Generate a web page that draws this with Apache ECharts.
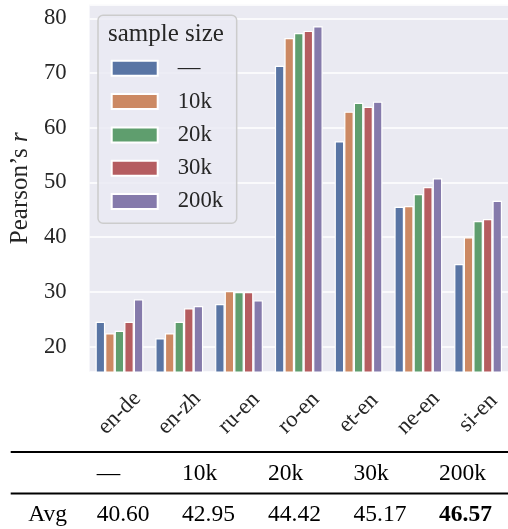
<!DOCTYPE html>
<html><head><meta charset="utf-8">
<script src="https://cdn.jsdelivr.net/npm/echarts@6/dist/echarts.min.js"></script>
<style>html,body{margin:0;padding:0;background:#fff}#c{width:508px;height:529px}</style>
</head><body><div id="c"></div>
<script>
var categories = ['en-de','en-zh','ru-en','ro-en','et-en','ne-en','si-en'];
var seriesNames = ['—','10k','20k','30k','200k'];
var valsNone = [24.57, 21.53, 27.8, 71.34, 57.53, 45.58, 35.1];
var vals10k  = [22.44, 22.44, 30.17, 76.4, 62.94, 45.7, 40.0];
var vals20k  = [22.92, 24.57, 30.0, 77.3, 64.58, 47.9, 42.96];
var vals30k  = [24.57, 27.01, 30.0, 77.7, 63.85, 49.18, 43.33];
var vals200k = [28.66, 27.43, 28.5, 78.54, 64.77, 50.77, 46.67];
var tableHeader = ['—','10k','20k','30k','200k'];
var avgLabel = 'Avg';
var avgValues = ['40.60','42.95','44.42','45.17','46.57'];

var colors = ['#5975a4','#cc8963','#5f9e6e','#b55d60','#857aab'];
var FONT = '"Liberation Serif", "Times New Roman", serif';
var TXT = '#262626';
var allVals = [valsNone, vals10k, vals20k, vals30k, vals200k];

var series = seriesNames.map(function(n, i){
  return {
    name: n, type: 'bar', data: allVals[i],
    barGap: '0%', barCategoryGap: '20%',
    itemStyle: {color: colors[i], borderColor: '#ffffff', borderWidth: 1.2},
    emphasis: {disabled: true}
  };
});

var colX = [96.7, 182, 268, 353.5, 439];
var graphics = [
  {type:'text', left: 108, top: 22, style:{text:'sample size', font:'25px ' + FONT, fill: TXT}, z: 100},
  {type:'line', shape:{x1:10.7, y1:452, x2:508, y2:452}, style:{stroke:'#000', lineWidth:2}},
  {type:'line', shape:{x1:10.7, y1:493.5, x2:508, y2:493.5}, style:{stroke:'#000', lineWidth:2}},
  {type:'text', x: 28.3, y: 515, style:{text: avgLabel, font:'23.5px ' + FONT, fill:'#000', textVerticalAlign:'middle', verticalAlign:'middle'}}
];
tableHeader.forEach(function(t, i){
  graphics.push({type:'text', x: colX[i], y: 473.5, style:{text:t, font:'23.5px ' + FONT, fill:'#000', verticalAlign:'middle'}});
});
avgValues.forEach(function(t, i){
  graphics.push({type:'text', x: colX[i], y: 515, style:{text:t, font:(i===avgValues.length-1?'bold ':'') + '23.5px ' + FONT, fill:'#000', verticalAlign:'middle'}});
});

var chart = echarts.init(document.getElementById('c'), null, {renderer:'canvas'});
chart.setOption({
  animation: false,
  backgroundColor: '#ffffff',
  textStyle: {fontFamily: FONT},
  grid: {left: 87, top: 4.5, right: -10.9, bottom: 157, show: true, backgroundColor: '#EAEAF2', borderWidth: 0, containLabel: false},
  legend: {
    data: seriesNames, orient: 'vertical', left: 98, top: 15.3,
    padding: [41, 13.6, 9.8, 12.7],
    backgroundColor: 'rgba(234,234,242,0.8)', borderColor: '#cccccc', borderWidth: 1.5, borderRadius: 5,
    itemWidth: 46, itemHeight: 15, itemGap: 9.3, icon: 'rect',
    formatter: function(n){ return '{g|}' + n; },
    textStyle: {fontFamily: FONT, fontSize: 22.7, color: TXT, lineHeight: 24,
      rich: {g: {width: 15, fontSize: 22.7, fontFamily: FONT}}},
    selectedMode: false
  },
  xAxis: {
    type: 'category', data: categories,
    axisLine: {show: false}, axisTick: {show: false},
    axisLabel: {rotate: 45, align: 'center', verticalAlign: 'middle', margin: 41, fontSize: 22.7, color: TXT, fontFamily: FONT}
  },
  yAxis: {
    type: 'value', min: 15.38, max: 82.52, splitNumber: 7,
    axisLine: {show: false}, axisTick: {show: false},
    splitLine: {lineStyle: {color: '#ffffff', width: 1.6}},
    axisLabel: {margin: 23, fontSize: 22.7, color: TXT, fontFamily: FONT, showMinLabel: false, showMaxLabel: false,
      formatter: function(v){ return Math.abs(v - Math.round(v/10)*10) < 1e-6 ? String(Math.round(v)) : ''; }},
    name: '{a|Pearson’s }{b|r}', nameLocation: 'middle', nameGap: 52,
    nameTextStyle: {color: TXT, fontFamily: FONT, fontSize: 25,
      rich: {a: {fontSize: 25, fontFamily: FONT, color: TXT}, b: {fontSize: 25, fontFamily: FONT, fontStyle: 'italic', color: TXT}}}
  },
  series: series,
  graphic: graphics
});
</script></body></html>
